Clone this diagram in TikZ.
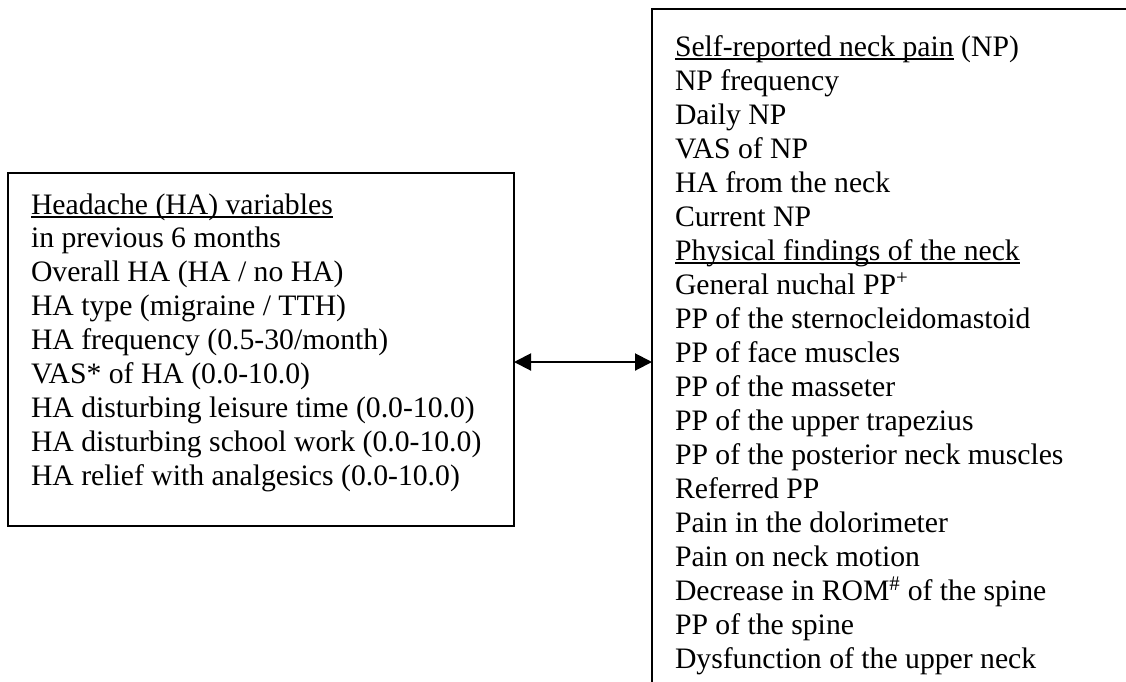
\documentclass[tikz,border=0pt]{standalone}
\usepackage{fontspec}
\setmainfont{Liberation Serif}
\usetikzlibrary{arrows.meta}
\newcommand\myul[1]{\setbox0\hbox{#1}\rlap{\rule[-3.5pt]{\wd0}{1.8pt}}\box0\relax}
\tikzset{
  boxframe/.style={draw=black, line width=2pt, inner sep=0pt, outer sep=0pt, rectangle},
  txtline/.style={anchor=base west, inner sep=0pt, outer sep=0pt, font=\fontsize{29.7}{34}\selectfont},
  linkarrow/.style={line width=2pt, {Triangle[length=17pt,width=17pt]}-{Triangle[length=17pt,width=17pt]}}
}
\begin{document}
\begin{tikzpicture}[x=1pt,y=-1pt]
\useasboundingbox (0,0) rectangle (1126,681);
\clip (0,0) rectangle (1126,681);
\fill[white] (0,0) rectangle (1126,681);
% boxes
\node[boxframe, minimum width=506pt, minimum height=353pt] (habox) at (261,349.5) {};
\node[boxframe, minimum width=488pt, minimum height=691pt] (npbox) at (896,354.5) {};
% left text
\foreach \t [count=\i from 0] in {
  {\myul{Headache (HA) variables}},
  {in previous 6 months},
  {Overall HA (HA / no HA)},
  {HA type (migraine / TTH)},
  {HA frequency (0.5-30/month)},
  {VAS* of HA (0.0-10.0)},
  {HA disturbing leisure time (0.0-10.0)},
  {HA disturbing school work (0.0-10.0)},
  {HA relief with analgesics (0.0-10.0)}}
  \node[txtline] (ha\i) at (31,{214+33.9*\i}) {\t};
% right text
\foreach \t [count=\i from 0] in {
  {\myul{Self-reported neck pain} (NP)},
  {NP frequency},
  {Daily NP},
  {VAS of NP},
  {HA from the neck},
  {Current NP},
  {\myul{Physical findings of the neck}},
  {General nuchal PP\textsuperscript{+}},
  {PP of the sternocleidomastoid},
  {PP of face muscles},
  {PP of the masseter},
  {PP of the upper trapezius},
  {PP of the posterior neck muscles},
  {Referred PP},
  {Pain in the dolorimeter},
  {Pain on neck motion},
  {Decrease in ROM\textsuperscript{\#} of the spine},
  {PP of the spine},
  {Dysfunction of the upper neck}}
  \node[txtline] (np\i) at (675,{56+34*\i}) {\t};
% connector
\coordinate (arrowy) at (0,362);
\draw[linkarrow] (habox.east |- arrowy) -- (npbox.west |- arrowy);
\end{tikzpicture}
\end{document}
